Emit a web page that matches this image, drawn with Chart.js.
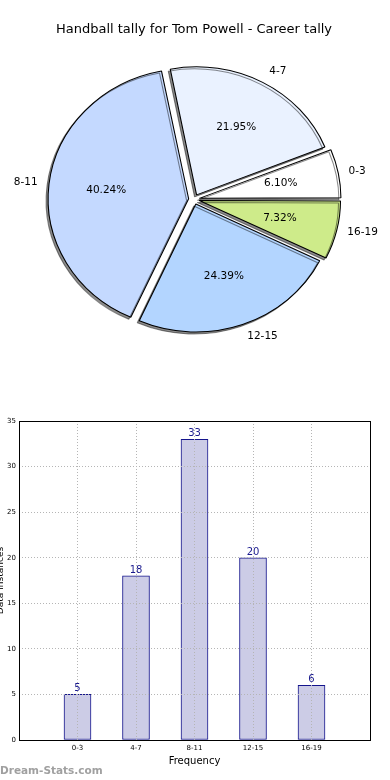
<!DOCTYPE html>
<html lang="en">
<head>
<meta charset="UTF-8">
<title>Handball tally for Tom Powell - Career tally</title>
<script src="https://cdn.jsdelivr.net/npm/chart.js"></script>
<style>
  body { margin: 0; background: #fff; width: 390px; height: 780px; overflow: hidden; position: relative; font-family: "DejaVu Sans", sans-serif; }
  #pieChart { position: absolute; left: 0; top: 0; }
  #barChart { position: absolute; left: -10px; top: 400px; }
  .watermark { position: absolute; left: 0; top: 764px; font: bold 10.5px "DejaVu Sans", sans-serif; color: #a0a0a0; }
</style>
</head>
<body>
<canvas id="pieChart" width="390" height="400"></canvas>
<canvas id="barChart" width="400" height="380"></canvas>
<div class="watermark">Dream-Stats.com</div>
<script>
// data
const categories = ['0-3', '4-7', '8-11', '12-15', '16-19'];
const tallies = [5, 18, 33, 20, 6];
const sliceColors = ['#ffffff', '#eaf2ff', '#c4d9ff', '#b3d5ff', '#ceeb8a'];
const yTickValues = [0, 5, 10, 15, 20, 25, 30, 35];

const FONT = '"DejaVu Sans", sans-serif';
const SX = 1.08;     // pie is drawn as an ellipse, like the original
const EXPLODE = 5;   // px, chart.js applies offset / 4

// matplotlib goes counter-clockwise from 3 o'clock, chart.js clockwise -> reverse
const pieLabels = categories.slice().reverse();
const pieData = tallies.slice().reverse();
const pieColors = sliceColors.slice().reverse();

const ellipsePie = {
  id: 'ellipsePie',
  beforeDatasetsDraw(chart) {
    const ctx = chart.ctx;
    const cx = chart.getDatasetMeta(0).data[0].x;
    ctx.save();
    ctx.translate(cx, 0);
    ctx.scale(SX, 1);
    ctx.translate(-cx, 0);
    ctx.shadowColor = 'rgba(0,0,0,0.45)';
    ctx.shadowOffsetX = -2;
    ctx.shadowOffsetY = 2;
  },
  afterDatasetsDraw(chart) {
    const ctx = chart.ctx;
    ctx.restore();
    const total = tallies.reduce((a, b) => a + b, 0);
    const meta = chart.getDatasetMeta(0);
    ctx.save();
    ctx.fillStyle = '#000';
    ctx.font = '10.5px ' + FONT;
    meta.data.forEach((arc, i) => {
      const mid = (arc.startAngle + arc.endAngle) / 2;
      const cos = Math.cos(mid), sin = Math.sin(mid);
      const r = arc.outerRadius;
      // category label
      ctx.textBaseline = 'middle';
      ctx.textAlign = cos >= 0 ? 'left' : 'right';
      ctx.fillText(pieLabels[i], arc.x + SX * (EXPLODE + 1.1 * r) * cos, arc.y + (EXPLODE + 1.1 * r) * sin);
      // percentage
      ctx.textAlign = 'center';
      const pct = (pieData[i] / total * 100).toFixed(2) + '%';
      ctx.fillText(pct, arc.x + SX * (EXPLODE + 0.6 * r) * cos, arc.y + (EXPLODE + 0.6 * r) * sin);
    });
    ctx.restore();
  }
};

new Chart(document.getElementById('pieChart'), {
  type: 'pie',
  data: {
    labels: pieLabels,
    datasets: [{
      data: pieData,
      backgroundColor: pieColors,
      borderColor: '#000',
      borderWidth: 1,
      offset: EXPLODE * 4
    }]
  },
  options: {
    responsive: false,
    animation: false,
    rotation: 90,
    radius: 128,
    layout: { padding: { left: 34, right: 36, top: 0, bottom: 49 } },
    plugins: {
      legend: { display: false },
      tooltip: { enabled: false },
      title: {
        display: true,
        text: 'Handball tally for Tom Powell - Career tally',
        color: '#000',
        font: { family: FONT, size: 13, weight: 'normal', lineHeight: 1.2 },
        padding: { top: 22, bottom: 10 }
      }
    }
  },
  plugins: [ellipsePie]
});

const barValueLabels = {
  id: 'barValueLabels',
  afterDatasetsDraw(chart) {
    const ctx = chart.ctx;
    const meta = chart.getDatasetMeta(0);
    const vals = chart.data.datasets[0].data;
    ctx.save();
    ctx.fillStyle = '#1a1a8e';
    ctx.font = '10px ' + FONT;
    ctx.textAlign = 'center';
    ctx.textBaseline = 'alphabetic';
    meta.data.forEach((bar, i) => {
      if (vals[i] == null) return;
      ctx.fillText(String(vals[i]), bar.x, bar.y - 3);
    });
    ctx.restore();
  }
};

const plotFrame = {
  id: 'plotFrame',
  afterDraw(chart) {
    const {left, top, right, bottom} = chart.chartArea;
    const ctx = chart.ctx;
    ctx.save();
    ctx.strokeStyle = '#000';
    ctx.lineWidth = 1;
    ctx.strokeRect(Math.round(left) + 0.5, Math.round(top) + 0.5, Math.round(right - left), Math.round(bottom - top));
    ctx.restore();
  }
};

new Chart(document.getElementById('barChart'), {
  type: 'bar',
  data: {
    labels: ['', ...categories, ''],
    datasets: [{
      data: [null, ...tallies, null],
      backgroundColor: '#cccce6',
      borderColor: '#14148c',
      borderWidth: 1,
      borderSkipped: false,
      barThickness: 27
    }]
  },
  options: {
    responsive: false,
    animation: false,
    layout: { padding: { top: 21, right: 20, left: 0, bottom: 0 } },
    plugins: { legend: { display: false }, tooltip: { enabled: false } },
    scales: {
      x: {
        offset: false,
        grid: { offset: false, color: '#b5b5b5', z: 1, drawTicks: false },
        border: { display: false, dash: [1, 2] },
        ticks: { color: '#000', font: { family: FONT, size: 7 }, padding: 4, autoSkip: false, maxRotation: 0 },
        title: { display: true, text: 'Frequency', color: '#000', font: { family: FONT, size: 10 }, padding: { top: 0, bottom: 13 } },
        afterFit: s => { s.height = 40; }
      },
      y: {
        min: 0,
        max: 35,
        afterBuildTicks: s => { s.ticks = yTickValues.map(v => ({ value: v })); },
        grid: { color: '#b5b5b5', z: 1, drawTicks: false },
        border: { display: false, dash: [1, 2] },
        ticks: { color: '#000', font: { family: FONT, size: 7 }, padding: 3 },
        title: { display: true, text: 'Data Instances', color: '#000', font: { family: FONT, size: 9 }, padding: { top: 5, bottom: 0 } },
        afterFit: s => { s.width = 29; }
      }
    }
  },
  plugins: [barValueLabels, plotFrame]
});
</script>
</body>
</html>
